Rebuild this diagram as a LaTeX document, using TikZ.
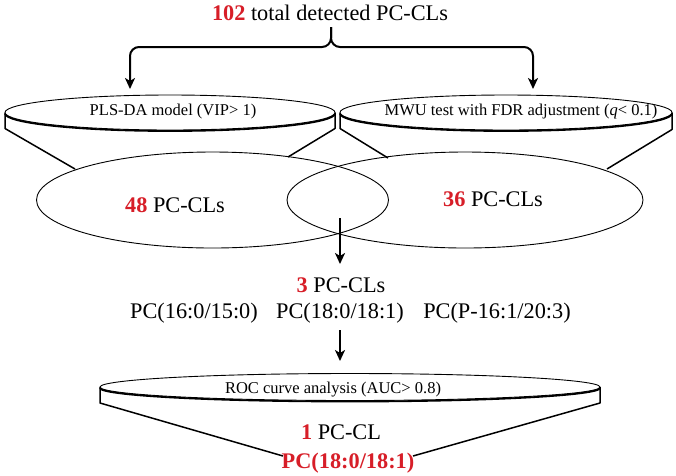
\documentclass[tikz,border=0pt]{standalone}
\usepackage{fontspec}
\setmainfont{Liberation Serif}
\usetikzlibrary{arrows.meta,shapes.geometric}
\definecolor{hired}{RGB}{215,30,40}
\tikzset{
  big/.style={font=\fontsize{22.3}{26}\selectfont, inner sep=0pt},
  small/.style={font=\fontsize{16.5}{19}\selectfont, inner sep=0pt},
  thinline/.style={line width=0.9pt},
  thickarc/.style={line width=1.8pt},
  disc/.style={draw, ellipse, thinline, outer sep=0pt, inner sep=0pt},
  funnel/.style={line width=1.5pt, line join=round},
  flow/.style={line width=2pt, -{Stealth[length=11pt,width=10pt,inset=3pt]}},
}
\newcommand{\rd}[1]{\textcolor{hired}{\textbf{#1}}}
\begin{document}
\begin{tikzpicture}[x=1pt,y=-1pt]
\useasboundingbox (0,0) rectangle (676,475);

% title and brace
\node[big] (title) at (330,13) {\rd{102} total detected PC-CLs};
\coordinate (stem) at (331,27);
\coordinate (tipL) at (130,89);
\coordinate (tipR) at (533,89);
\draw[flow, rounded corners=9pt] (stem) -- (331,47) -- (130,47) -- (tipL);
\draw[flow, rounded corners=9pt] (stem) -- (331,47) -- (533,47) -- (tipR);

% lower Venn ellipses
\node[disc, minimum width=352pt, minimum height=96pt] (vennL) at (212.5,200) {};
\node[disc, minimum width=356pt, minimum height=96pt] (vennR) at (465,200) {};
\node[big] (n48) at (175,205) {\rd{48} PC-CLs};
\node[big] (n36) at (493,199) {\rd{36} PC-CLs};

% upper discs
\node[disc, minimum width=330pt, minimum height=35pt] (discL) at (170,112.5) {};
\node[disc, minimum width=332pt, minimum height=35pt] (discR) at (506,112.5) {};
\draw[thickarc] (5,113.5) arc[start angle=180, end angle=0, x radius=165, y radius=17.5];
\draw[thickarc] (340,113.5) arc[start angle=180, end angle=0, x radius=166, y radius=17.5];
\node[small] (pls) at (173,112) {PLS-DA model (VIP> 1)};
\node[small] (mwu) at (521,112) {MWU test with FDR adjustment (\textit{q}< 0.1)};

\coordinate (fLa) at (75,169);
\coordinate (fLb) at (288,157);
\coordinate (fRa) at (388,158);
\coordinate (fRb) at (607,169);
\draw[funnel] (discL.west) -- ++(0,16) -- (fLa);
\draw[funnel] (discL.east) -- ++(0,16) -- (fLb);
\draw[funnel] (discR.west) -- ++(0,16) -- (fRa);
\draw[funnel] (discR.east) -- ++(0,17) -- (fRb);

% result of intersection
\coordinate (a1s) at (340,218);
\coordinate (a1e) at (340,264);
\node[big] (n3) at (341,285) {\rd{3} PC-CLs};
\draw[flow] (a1s) -- (a1e);
\node[big] (pc1) at (194,313) {PC(16:0/15:0)};
\node[big] (pc2) at (340,313) {PC(18:0/18:1)};
\node[big] (pc3) at (497,313) {PC(P-16:1/20:3)};

% ROC disc
\node[disc, minimum width=500pt, minimum height=27pt] (roc) at (350,387) {};
\draw[thickarc] (100,388) arc[start angle=180, end angle=0, x radius=250, y radius=13.5];
\coordinate (a2s) at (340,330);
\coordinate (a2e) at (340,361);
\draw[flow] (a2s) -- (a2e);
\node[small] (roct) at (333,390) {ROC curve analysis (AUC> 0.8)};
\coordinate (gLa) at (283,456);
\coordinate (gRa) at (413,456);
\draw[funnel] (roc.west) -- ++(0,16) -- (gLa);
\draw[funnel] (roc.east) -- ++(0,16) -- (gRa);
\node[big] (n1) at (341,432) {\rd{1} PC-CL};
\node[big] (fin) at (348,463) {\rd{PC(18:0/18:1)}};
\end{tikzpicture}
\end{document}
